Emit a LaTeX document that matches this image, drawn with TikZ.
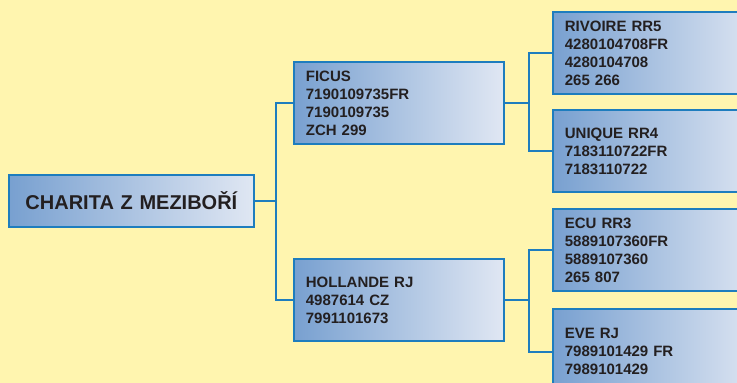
\documentclass[tikz,border=0pt]{standalone}
\usepackage{fontspec}
\setmainfont{Liberation Sans}
\definecolor{paper}{RGB}{255,245,175}
\definecolor{edge}{RGB}{30,125,190}
\definecolor{ink}{RGB}{35,31,32}
\definecolor{deepblue}{RGB}{120,160,208}
\definecolor{paleblue}{RGB}{224,231,243}

\begin{document}
\begin{tikzpicture}[x=1pt, y=-1pt,
    horse/.style={rectangle, draw=edge, line width=1.8pt, left color=deepblue, right color=paleblue, anchor=north west, minimum width=210pt, minimum height=82pt, text width=186pt, inner xsep=12pt, inner ysep=0pt, align=left, text=ink, font=\bfseries\fontsize{15}{18}\selectfont},
    sire/.style={horse, minimum width=245pt, minimum height=52pt, text width=221pt, align=center, font=\bfseries\fontsize{20}{24}\selectfont},
    link/.style={draw=edge, line width=1.8pt}]

\fill [paper] (0,0) rectangle (737,383);
\useasboundingbox (0,0) rectangle (737,383);
\clip (0,0) rectangle (737,383);

\node [sire] (charita) at (8,174) {CHARITA Z MEZIBOŘÍ};
\node [horse] (ficus) at (293,61) {FICUS\\7190109735FR\\7190109735\\ZCH 299};
\node [horse] (hollande) at (293,258) {HOLLANDE RJ\\4987614 CZ\\7991101673};
\node [horse] (rivoire) at (552,11) {RIVOIRE RR5\\4280104708FR\\4280104708\\265 266};
\node [horse] (unique) at (552,109) {UNIQUE RR4\\7183110722FR\\7183110722};
\node [horse] (ecu) at (552,208) {ECU RR3\\5889107360FR\\5889107360\\265 807};
\node [horse, minimum height=86pt] (eve) at (552,308) {EVE RJ\\7989101429 FR\\7989101429};

\draw [link] (charita.east) -- ++(21,0) coordinate (fork) |- (ficus.west);
\draw [link] (fork) |- (hollande.west);
\draw [link] (ficus.east) -- ++(24,0) coordinate (ficusfork) |- (rivoire.west);
\draw [link] (ficusfork) |- (unique.west);
\draw [link] (hollande.east) -- ++(24,0) coordinate (hollandefork) |- (ecu.west);
\draw [link] (hollandefork) |- (eve.west);

\end{tikzpicture}
\end{document}
